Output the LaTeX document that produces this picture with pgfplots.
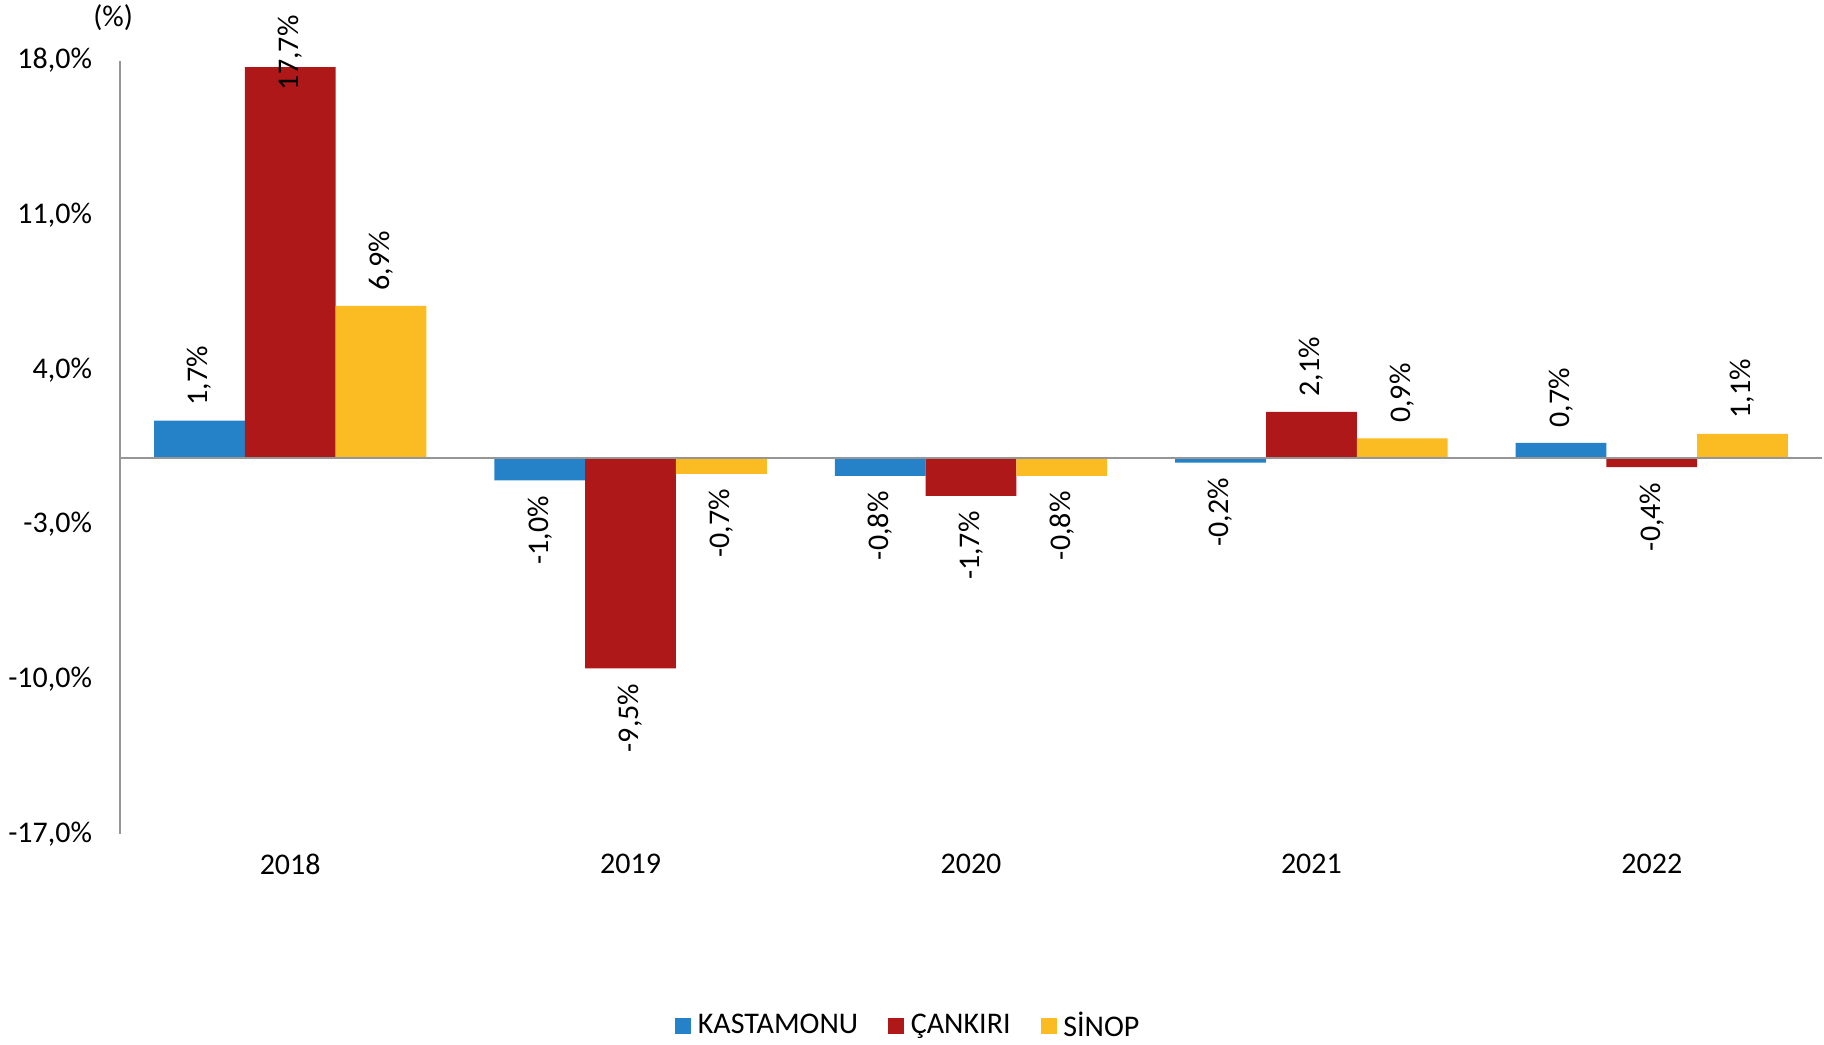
\documentclass[border=0pt]{standalone}
\usepackage{fontspec}
\setmainfont{Carlito}
\usepackage{pgfplots}
\pgfplotsset{compat=1.18}
\definecolor{cblue}{RGB}{38,130,200}
\definecolor{cred}{RGB}{175,24,24}
\definecolor{cyel}{RGB}{251,187,34}
\definecolor{axgray}{RGB}{150,150,150}
\begin{document}
\begin{tikzpicture}[font=\fontsize{12}{14}\selectfont]
\path[use as bounding box] (0,0) rectangle (729.6pt,417.6pt);
\begin{axis}[
  at={(48pt,84pt)}, anchor=south west,
  scale only axis, width=680.8pt, height=309.4pt,
  ybar=0pt, bar width=0.2667,
  xmin=-0.5, xmax=4.5, ymin=-17, ymax=18,
  clip=false,
  axis y line*=left, axis x line*=bottom,
  x axis line style={draw=none},
  y axis line style={draw=axgray, line width=0.8pt, -},
  major tick length=0pt,
  xtick={0,1,2,3,4}, xticklabels={2018,2019,2020,2021,2022},
  xticklabel style={inner sep=0pt, anchor=north, yshift=-8pt},
  ytick={-17,-10,-3,4,11,18},
  yticklabels={{-17,0\%},{-10,0\%},{-3,0\%},{4,0\%},{11,0\%},{18,0\%}},
  yticklabel style={inner xsep=0pt, anchor=east, xshift=-11pt},
  point meta=y,
  visualization depends on=rawy\as\rawy,
  nodes near coords={\ifdim\rawy pt>15pt\relax\else\pgfmathprintnumber[fixed,fixed zerofill,precision=1,use comma,assume math mode=true]{\pgfplotspointmeta}\%\fi},
  nodes near coords style={rotate=90, inner xsep=6pt, inner ysep=0pt, anchor=\ifdim\rawy pt<0pt east\else west\fi, text=black},
  legend columns=3,
  legend style={draw=none, at={(0.464,-0.248)}, anchor=center, font=\fontsize{12}{14}\selectfont,
    /tikz/every odd column/.append style={column sep=0.7pt},
    /tikz/every even column/.append style={column sep=10pt}},
  legend cell align=left,
]
\addplot[fill=cblue, draw=none, area legend,
  legend image code/.code={\fill[cblue] (0pt,-3.2pt) rectangle (6.4pt,3.2pt);}]
  coordinates {(0,1.7) (1,-1.0) (2,-0.8) (3,-0.2) (4,0.7)};
\addplot[fill=cred, draw=none, area legend,
  legend image code/.code={\fill[cred] (0pt,-3.2pt) rectangle (6.4pt,3.2pt);}]
  coordinates {(0,17.7) (1,-9.5) (2,-1.7) (3,2.1) (4,-0.4)};
\addplot[fill=cyel, draw=none, area legend,
  legend image code/.code={\fill[cyel] (0pt,-3.2pt) rectangle (6.4pt,3.2pt);}]
  coordinates {(0,6.9) (1,-0.7) (2,-0.8) (3,0.9) (4,1.1)};
\legend{KASTAMONU,ÇANKIRI,SİNOP}
\draw[axgray, line width=0.8pt] (axis cs:-0.5,0) -- (axis cs:4.5,0);
\node[rotate=90, anchor=east, inner sep=0pt] at (axis cs:0,20.06) {17,7\%};
\node[anchor=center, inner sep=0pt] at (rel axis cs:-0.004,1.056) {(\%)};
\end{axis}
\end{tikzpicture}
\end{document}
